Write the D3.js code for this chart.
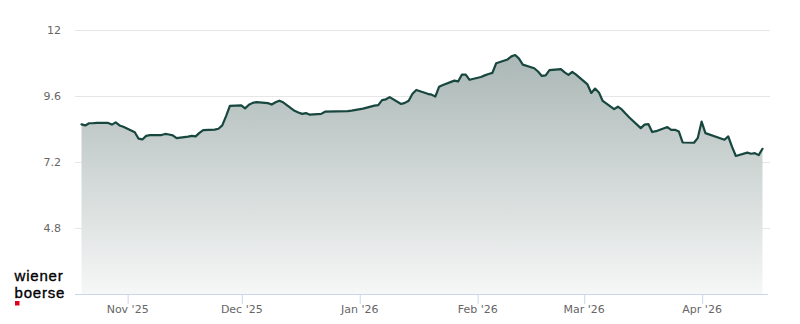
<!DOCTYPE html>
<html>
<head>
<meta charset="utf-8">
<script src="https://cdn.jsdelivr.net/npm/d3@7/dist/d3.min.js"></script>
<style>
  html, body { margin: 0; padding: 0; background: #fff; }
  svg { display: block; }
</style>
</head>
<body>
<svg id="chart" width="800" height="324"></svg>
<script>
const dates = [
  "2025-10-20","2025-10-21","2025-10-22","2025-10-23","2025-10-24","2025-10-27","2025-10-28","2025-10-29","2025-10-30","2025-10-31",
  "2025-11-03","2025-11-04","2025-11-05","2025-11-06","2025-11-07","2025-11-10","2025-11-11","2025-11-12","2025-11-13","2025-11-14",
  "2025-11-17","2025-11-18","2025-11-19","2025-11-20","2025-11-21","2025-11-24","2025-11-25","2025-11-26","2025-11-27","2025-11-28",
  "2025-12-01","2025-12-02","2025-12-03","2025-12-04","2025-12-05","2025-12-08","2025-12-09","2025-12-10","2025-12-11","2025-12-12",
  "2025-12-15","2025-12-16","2025-12-17","2025-12-18","2025-12-19","2025-12-22","2025-12-23","2025-12-29","2025-12-30",
  "2026-01-02","2026-01-05","2026-01-06","2026-01-07","2026-01-08","2026-01-09","2026-01-12","2026-01-13","2026-01-14","2026-01-15",
  "2026-01-16","2026-01-19","2026-01-20","2026-01-21","2026-01-22","2026-01-23","2026-01-26","2026-01-27","2026-01-28","2026-01-29","2026-01-30",
  "2026-02-02","2026-02-03","2026-02-04","2026-02-05","2026-02-06","2026-02-09","2026-02-10","2026-02-11","2026-02-12","2026-02-13",
  "2026-02-16","2026-02-17","2026-02-18","2026-02-19","2026-02-20","2026-02-23","2026-02-24","2026-02-25","2026-02-26","2026-02-27",
  "2026-03-02","2026-03-03","2026-03-04","2026-03-05","2026-03-06","2026-03-09","2026-03-10","2026-03-11","2026-03-12","2026-03-13",
  "2026-03-16","2026-03-17","2026-03-18","2026-03-19","2026-03-20","2026-03-23","2026-03-24","2026-03-25","2026-03-26","2026-03-27",
  "2026-03-30","2026-03-31",
  "2026-04-01","2026-04-02","2026-04-07","2026-04-08","2026-04-09","2026-04-10","2026-04-13","2026-04-14","2026-04-15","2026-04-16","2026-04-17"
];
const prices = [
  8.57, 8.53, 8.61, 8.61, 8.62, 8.62, 8.56, 8.64, 8.53, 8.48,
  8.28, 8.05, 8.02, 8.15, 8.18, 8.18, 8.22, 8.20, 8.17, 8.07,
  8.12, 8.15, 8.13, 8.26, 8.36, 8.38, 8.41, 8.53, 8.87, 9.24,
  9.26, 9.15, 9.28, 9.35, 9.38, 9.34, 9.29, 9.37, 9.43, 9.37,
  9.06, 9.00, 8.95, 8.98, 8.92, 8.95, 9.03, 9.05, 9.07,
  9.14, 9.25, 9.27, 9.45, 9.48, 9.56, 9.31, 9.35, 9.43, 9.68,
  9.82, 9.68, 9.65, 9.58, 9.94, 10.00, 10.16, 10.13, 10.38, 10.38, 10.19,
  10.29, 10.35, 10.40, 10.44, 10.79, 10.93, 11.04, 11.09, 10.96, 10.74,
  10.61, 10.49, 10.33, 10.35, 10.54, 10.58, 10.46, 10.37, 10.48, 10.38,
  10.02, 9.71, 9.87, 9.73, 9.42, 9.12, 9.21, 9.11, 8.96, 8.82,
  8.43, 8.56, 8.58, 8.29, 8.32, 8.47, 8.37, 8.37, 8.31, 7.91,
  7.90, 8.08,
  8.67, 8.25, 8.01, 8.13, 7.75, 7.42, 7.54, 7.50, 7.52, 7.45, 7.68
];
const yTicks = [4.8, 7.2, 9.6, 12];
const yTickLabels = ["4.8", "7.2", "9.6", "12"];
const xTickDates = ["2025-11-01","2025-12-01","2026-01-01","2026-02-01","2026-03-01","2026-04-01"];
const xTickLabels = ["Nov '25","Dec '25","Jan '26","Feb '26","Mar '26","Apr '26"];
const yDomain = [2.4, 12];

const parse = d3.utcParse("%Y-%m-%d");
const data = dates.map((d, i) => ({ date: parse(d), value: prices[i] }));

const svg = d3.select("#chart");
const plotLeft = 75, plotRight = 770, plotTop = 30, plotBottom = 294;

const x = d3.scaleUtc()
  .domain([parse("2025-10-20"), parse("2026-04-17")])
  .range([81.5, 762.5]);
const y = d3.scaleLinear().domain(yDomain).range([plotBottom, plotTop]);

const font = "'DejaVu Sans', sans-serif";

const defs = svg.append("defs");
const grad = defs.append("linearGradient")
  .attr("id", "fillGrad")
  .attr("gradientUnits", "userSpaceOnUse")
  .attr("x1", 0).attr("y1", plotTop).attr("x2", 0).attr("y2", plotBottom);
grad.append("stop").attr("offset", "0%").attr("stop-color", "#a3b1ae");
grad.append("stop").attr("offset", "100%").attr("stop-color", "#f6f7f7");

// grid lines
svg.append("g").selectAll("line")
  .data(yTicks)
  .join("line")
  .attr("x1", plotLeft).attr("x2", plotRight)
  .attr("y1", d => Math.round(y(d)) + 0.5).attr("y2", d => Math.round(y(d)) + 0.5)
  .attr("stroke", "#e6e6e6").attr("stroke-width", 1);

// y labels
svg.append("g").selectAll("text")
  .data(yTicks)
  .join("text")
  .attr("x", 61).attr("y", d => y(d) + 4)
  .attr("text-anchor", "end")
  .attr("font-family", font).attr("font-size", 11)
  .attr("fill", "#666666")
  .text((d, i) => yTickLabels[i]);

// area
const area = d3.area()
  .x(d => x(d.date))
  .y0(plotBottom)
  .y1(d => y(d.value));
svg.append("path").datum(data)
  .attr("d", area)
  .attr("fill", "url(#fillGrad)");

// line
const line = d3.line().x(d => x(d.date)).y(d => y(d.value));
svg.append("path").datum(data)
  .attr("d", line)
  .attr("fill", "none")
  .attr("stroke", "#17473f")
  .attr("stroke-width", 2.2)
  .attr("stroke-linejoin", "round")
  .attr("stroke-linecap", "round");

// x axis
const xAxis = d3.axisBottom(x)
  .tickValues(xTickDates.map(parse))
  .tickFormat((d, i) => xTickLabels[i])
  .tickSize(10)
  .tickSizeOuter(0);
const gx = svg.append("g")
  .attr("transform", `translate(0,${plotBottom})`)
  .call(xAxis);
gx.select(".domain").remove();
gx.append("line")
  .attr("x1", plotLeft).attr("x2", 768)
  .attr("y1", 0.5).attr("y2", 0.5)
  .attr("stroke", "#ccd6eb");
gx.selectAll(".tick line").attr("stroke", "#ccd6eb").attr("transform", "translate(0.5,0)");
gx.selectAll(".tick text")
  .attr("font-family", font).attr("font-size", 11)
  .attr("fill", "#666666")
  .attr("dy", null)
  .attr("y", 19);

// logo
const logoFont = "'Liberation Sans', Arial, sans-serif";
svg.append("text")
  .attr("font-family", logoFont).attr("font-size", 15).attr("letter-spacing", 0.8)
  .attr("fill", "#000").attr("stroke", "#000").attr("stroke-width", 0.35)
  .attr("x", 14.5).attr("y", 280.5).text("wiener");
svg.append("text")
  .attr("font-family", logoFont).attr("font-size", 15).attr("letter-spacing", 0.8)
  .attr("fill", "#000").attr("stroke", "#000").attr("stroke-width", 0.35)
  .attr("x", 14.5).attr("y", 297.5).text("boerse");
svg.append("rect").attr("x", 15).attr("y", 301).attr("width", 4.5).attr("height", 4.5).attr("fill", "#e2001a");
</script>
</body>
</html>
